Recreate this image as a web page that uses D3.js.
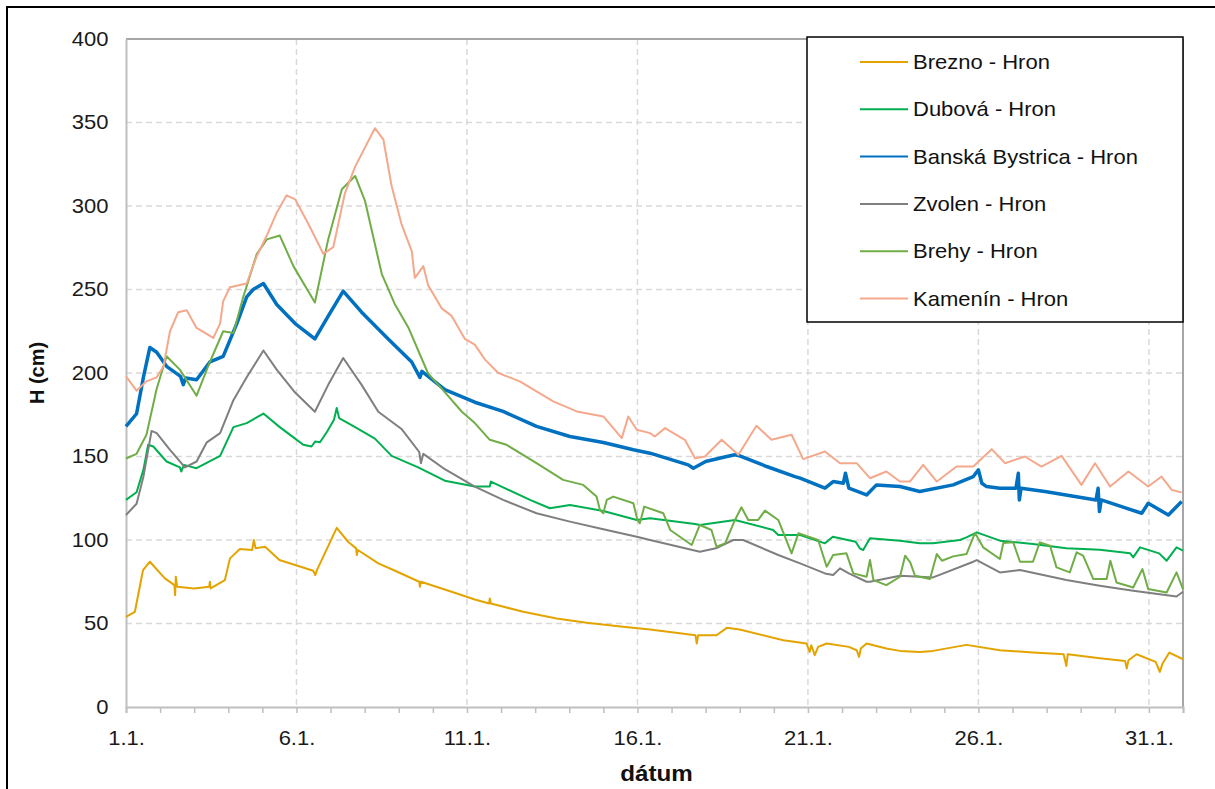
<!DOCTYPE html>
<html>
<head>
<meta charset="utf-8">
<script src="https://cdn.jsdelivr.net/npm/d3@7"></script>
<style>
  body { margin: 0; background: #fff; }
  svg { font-family: "Liberation Sans", Arial, sans-serif; }
</style>
</head>
<body>
<svg width="1215" height="789"></svg>
<script>
// Plot box (pixels)
const margin = {top: 39, right: 32, bottom: 82, left: 126};
const W = 1215, H = 789;
const width = W - margin.left - margin.right;
const height = H - margin.top - margin.bottom;
const stretch = 'scale(1.1,1)';   // text in the original is a bit wide

// x = days since 1.1. 00:00, y = water level H (cm)
const yTicks = [0, 50, 100, 150, 200, 250, 300, 350, 400];
const xLabelDays = [0, 5, 10, 15, 20, 25, 30];

const brezno = [[0,54],[0.26,57],[0.5,82],[0.7,87],[1.14,77],[1.42,73],[1.44,67],[1.46,78],[1.5,72],[2.0,71],[2.44,72],[2.46,75],[2.48,71],[2.9,76],[3.05,89],[3.34,94.6],[3.7,94],[3.75,100],[3.8,95],[4.08,96],[4.5,88],[4.96,85],[5.49,81.6],[5.55,79],[5.6,82],
  [6.18,107.3],[6.52,98.8],[6.75,95],[6.77,91],[6.8,94],[7.4,86],[7.89,81.6],[8.6,75],[8.62,72],[8.65,75],[9.55,69],[10.23,64.4],[10.65,62],[10.67,65],[10.7,62],[11.65,57],[12.63,53],[13.51,50.4],[14.58,48],[15.37,46.4],[16.3,44],[16.7,43],[16.74,38],[16.78,43],
  [17.32,43],[17.62,47.4],[18.0,46.4],[19.28,40],[19.96,38],[20.05,33],[20.1,37],[20.2,31],[20.3,36],[20.55,38],[21.2,36],[21.43,34],[21.5,30],[21.55,35],[21.72,38],[22.3,35],[22.7,33.6],[23.28,33],[23.67,33.6],[24.65,37.2],[25.63,34],[26.6,32.6],
  [27.5,31.6],[27.58,24.6],[27.62,31.6],[28.56,29.2],[29.3,27.6],[29.35,23],[29.4,28],[29.64,31.6],[30.2,27],[30.32,21],[30.4,26],[30.6,32.6],[31.0,28.6]];

const dubova = [[0,124],[0.31,128.6],[0.51,142],[0.65,157],[0.8,156],[1.19,147],[1.58,143.5],[1.62,141],[1.7,145],[2.07,143],[2.76,150.4],[3.15,167.6],[3.54,170],[4.03,175.7],[4.51,167.6],[4.96,160.7],[5.2,157],[5.44,156],[5.55,159],[5.69,158.5],[5.9,165],
  [6.1,172],[6.18,179],[6.25,173],[6.72,167.6],[7.3,160.7],[7.79,150.4],[8.57,143.5],[9.35,135.5],[10.23,132],[10.67,132],[10.7,135],[11.85,124],[12.43,119],[13.02,121],[14.0,117.4],[14.98,112],[15.37,113],[16.69,109.6],[16.83,109],[17.86,112],[18.98,106],
  [19.13,103],[19.77,103],[20.5,98],[20.73,102],[21.4,99],[21.52,95],[21.62,94],[21.82,101],[22.7,99.6],[23.28,98],[23.67,98],[24.46,100],[24.65,101.6],[24.95,104.6],[25.63,99.6],[26.6,97.6],[27.58,95],[28.56,94.2],[29.45,92],[29.54,89.6],[29.74,95.6],
  [30.3,92],[30.52,87.6],[30.81,95.6],[31.0,93.6]];

const banska = [[0,168],[0.31,175.6],[0.51,197.4],[0.7,215.3],[0.9,212.4],[1.19,204],[1.6,198],[1.68,193],[1.75,197],[2.07,196],[2.46,206.6],[2.85,210],[3.25,229.6],[3.54,245.6],[3.73,250],[4.03,253.6],[4.42,241],[4.96,229.6],[5.54,220.4],[5.93,234],
  [6.37,249],[6.91,236.4],[7.69,220.4],[8.38,206.6],[8.62,197.4],[8.68,201],[9.35,190],[10.23,182.5],[11.06,177],[12.04,168],[13.02,162],[14.0,158.4],[14.88,154],[15.37,152],[16.49,145],[16.64,143],[17.0,147],[17.62,150],[17.86,151],[18.0,150.4],
  [18.79,144],[19.62,138],[19.77,137],[20.5,131],[20.74,135],[21.04,134],[21.1,140],[21.2,131],[21.72,127],[22.01,133],[22.7,132],[23.28,129],[24.26,133],[24.85,138],[25.0,142],[25.1,134],[25.24,132],[25.63,131],[26.1,131],[26.17,140],[26.2,124],[26.25,131],
  [26.95,129],[28.45,124],[28.51,131],[28.55,117],[28.6,124],[29.2,120],[29.79,116],[29.98,122],[30.57,115],[30.96,123]];

const zvolen = [[0,115],[0.31,121.7],[0.51,137.8],[0.75,165.3],[0.9,164],[1.29,154],[1.73,143.5],[2.07,147],[2.37,158.5],[2.76,164],[3.15,183.7],[3.54,197.4],[4.03,213.5],[4.42,202],[4.96,188.3],[5.54,176.8],[5.93,192.9],[6.37,209],[6.91,192.9],
  [7.4,176.8],[8.08,166.5],[8.6,152.7],[8.65,146],[8.72,151.6],[9.35,142.4],[10.23,132],[11.06,124],[12.04,116],[13.02,111],[14.0,106.4],[14.98,102],[15.37,100],[16.83,93],[17.3,95],[17.81,100],[18.1,100],[19.13,91],[19.77,86],[20.5,80],[20.74,79],
  [20.94,83],[21.2,80],[21.72,75],[21.82,75],[22.7,78.6],[23.28,78],[23.67,77.6],[24.85,87],[24.95,88],[25.63,80.6],[26.22,82],[27.58,76],[28.56,72.6],[29.54,69.6],[30.81,66.2],[31.0,69]];

const brehy = [[0,148.8],[0.31,151.6],[0.6,163],[0.9,190.6],[1.19,210],[1.58,202],[2.07,186.4],[2.46,206.6],[2.85,225],[3.15,224],[3.44,245.6],[3.83,271],[4.13,280],[4.51,282.3],[4.91,264],[5.54,242.2],[5.93,280],[6.33,310],[6.72,318],[7.01,303],
  [7.5,259.4],[7.89,241],[8.28,227.3],[8.86,199.7],[9.26,190.6],[9.85,176.8],[10.23,170],[10.67,160],[11.16,157],[12.04,146],[12.82,136],[13.41,133],[13.8,126],[13.9,118],[14.0,116],[14.1,124],[14.29,126],[14.88,122],[15.0,112],[15.07,110],[15.2,120],
  [15.76,116],[15.96,106],[16.59,97],[16.83,109],[17.17,106],[17.32,96],[17.57,98],[17.86,112],[18.05,119.6],[18.25,112],[18.54,112],[18.74,117.6],[19.13,112],[19.52,92],[19.72,104],[20.3,100],[20.55,84],[20.74,91],[21.13,92],[21.33,80],[21.72,78],
  [21.82,88],[21.92,76],[22.3,73],[22.7,78],[22.85,90.6],[23.0,86.6],[23.14,78.6],[23.58,76.6],[23.78,91.6],[23.93,87.6],[24.26,90.2],[24.65,91.6],[24.9,104.2],[25.14,95.6],[25.63,88.6],[25.73,98.2],[26.02,98.6],[26.22,87],[26.6,87],[26.8,98.6],
  [27.1,96.6],[27.29,83.6],[27.68,80.6],[27.88,92.6],[28.07,90.6],[28.37,76.6],[28.76,76.6],[28.87,87.6],[29.05,74.6],[29.54,71.6],[29.81,82.6],[29.98,70.6],[30.52,68.6],[30.81,80.6],[31.0,70.6]];

const kamenin = [[0,198],[0.31,189.4],[0.6,195],[0.9,197.4],[1.1,204],[1.29,225],[1.53,236.4],[1.78,237.6],[2.07,227],[2.56,221],[2.76,229.6],[2.85,243],[3.05,251.4],[3.54,253.6],[3.83,269.7],[4.13,282.3],[4.42,296],[4.71,306.4],[4.96,304],[5.35,289.2],
  [5.79,271.3],[6.08,275.4],[6.42,307.6],[6.72,323.6],[7.3,346.6],[7.55,339.7],[7.79,312],[8.08,289.2],[8.38,273],[8.47,257],[8.72,264],[8.86,252.5],[9.26,238.7],[9.55,234.2],[9.94,220.4],[10.23,217],[10.53,208],[10.92,200],[11.55,195],[12.53,183],
  [13.22,177],[14.0,174],[14.54,161],[14.73,174],[14.98,166],[15.37,164],[15.51,162],[15.81,167],[16.39,160],[16.69,149],[16.98,150],[17.47,160],[17.96,151],[18.49,168.4],[18.93,160],[19.52,163],[19.86,148.4],[20.5,153],[20.94,146],[21.43,146],
  [21.82,137],[22.3,141],[22.7,135],[22.99,135],[23.38,145],[23.78,135],[24.36,144],[24.85,144],[25.39,154.4],[25.78,146],[26.36,150],[26.85,144],[27.44,150.4],[28.02,133],[28.42,146],[28.86,132],[29.4,141],[29.98,132],[30.37,138],[30.67,130],[30.96,128.4]];

const names = ["Brezno - Hron", "Dubová - Hron", "Banská Bystrica - Hron", "Zvolen - Hron", "Brehy - Hron", "Kamenín - Hron"];
const colors = ["#e3a400", "#00b050", "#0070c0", "#7f7f7f", "#70ad47", "#f4a88c"];
const strokeW = [2, 2, 3.5, 2, 2, 2];
const seriesData = [brezno, dubova, banska, zvolen, brehy, kamenin];

const svg = d3.select('svg');

// outer frame
svg.append('rect').attr('x', 7).attr('y', 7).attr('width', 1220).attr('height', 800)
  .attr('fill', 'none').attr('stroke', '#000').attr('stroke-width', 2);

const chart = svg.append('g').attr('transform', 'translate(' + margin.left + ',' + margin.top + ')');

const x = d3.scaleLinear().domain([0, 31]).range([0, width]);
const y = d3.scaleLinear().domain([0, 400]).range([height, 0]);

// grid
chart.append('g').selectAll('line').data(yTicks.slice(1, -1)).enter().append('line')
  .attr('x1', 0).attr('x2', width).attr('y1', d => y(d)).attr('y2', d => y(d))
  .attr('stroke', '#d9d9d9').attr('stroke-width', 1.5).attr('stroke-dasharray', '6,4');
chart.append('g').selectAll('line').data(xLabelDays.slice(1)).enter().append('line')
  .attr('x1', d => x(d)).attr('x2', d => x(d)).attr('y1', 0).attr('y2', height)
  .attr('stroke', '#d9d9d9').attr('stroke-width', 1.5).attr('stroke-dasharray', '6,4');

// frame of plot
chart.append('line').attr('x1', 0).attr('x2', width).attr('y1', 0).attr('y2', 0)
  .attr('stroke', '#a6a6a6').attr('stroke-width', 2);
chart.append('line').attr('x1', width).attr('x2', width).attr('y1', 0).attr('y2', height)
  .attr('stroke', '#a6a6a6').attr('stroke-width', 2);

// axes
const yAxis = d3.axisLeft(y).tickValues(yTicks).tickSize(0).tickPadding(16);
const xAxis = d3.axisBottom(x).tickValues(d3.range(0, 32)).tickSize(6)
  .tickFormat(d => xLabelDays.includes(d) ? (d + 1) + '.1.' : '');

const ya = chart.append('g').call(yAxis);
const xa = chart.append('g').attr('transform', 'translate(0,' + height + ')').call(xAxis);
[ya, xa].forEach(a => {
  a.select('.domain').attr('stroke', '#bfbfbf').attr('stroke-width', 2);
  a.selectAll('.tick line').attr('stroke', '#bfbfbf').attr('stroke-width', 1.5);
  a.selectAll('.tick text').attr('fill', '#1a1a1a').style('font-size', '20px')
    .style('font-family', '"Liberation Sans", Arial, sans-serif')
    .attr('transform', stretch);
});
xa.selectAll('.tick text').attr('dy', '1.45em');

// axis titles
chart.append('text')
  .attr('transform', 'translate(' + (-82) + ',' + (height / 2) + ') rotate(-90)')
  .style('text-anchor', 'middle').style('font-weight', 'bold').style('font-size', '20px')
  .attr('fill', '#111').text('H (cm)');
chart.append('text')
  .attr('transform', 'translate(' + (width / 2 + 2) + ',' + (height + 74) + ') ' + stretch)
  .style('text-anchor', 'middle').style('font-weight', 'bold').style('font-size', '22px')
  .attr('fill', '#111').text('dátum');

// lines
const line = d3.line().x(d => x(d[0])).y(d => y(d[1]));
chart.append('g').selectAll('path').data(seriesData).enter().append('path')
  .attr('fill', 'none')
  .attr('stroke', (d, i) => colors[i])
  .attr('stroke-width', (d, i) => strokeW[i])
  .attr('stroke-linejoin', 'round')
  .attr('d', line);

// legend
const lg = svg.append('g').attr('transform', 'translate(807,37)');
lg.append('rect').attr('width', 376).attr('height', 285)
  .attr('fill', '#fff').attr('stroke', '#000').attr('stroke-width', 1.5);
const items = lg.selectAll('g.item').data(names).enter().append('g')
  .attr('transform', (d, i) => 'translate(0,' + (25 + i * 47.3) + ')');
items.append('line').attr('x1', 53).attr('x2', 101).attr('y1', 0).attr('y2', 0)
  .attr('stroke', (d, i) => colors[i]).attr('stroke-width', 2);
items.append('text').attr('transform', 'translate(106,0) ' + stretch).attr('dy', '0.35em')
  .style('font-size', '20px').attr('fill', '#111').text(d => d);
</script>
</body>
</html>
